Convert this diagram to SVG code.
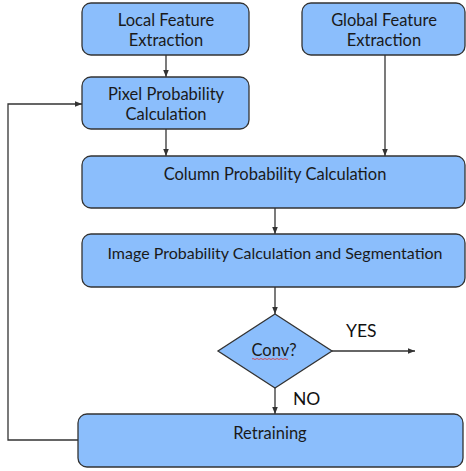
<svg xmlns="http://www.w3.org/2000/svg" width="466" height="471" viewBox="0 0 466 471">
<style>
.box{fill:#8bbefc;stroke:#333;stroke-width:1.3}
.t{font-family:Lato,"Open Sans","DejaVu Sans",sans-serif;font-size:16.5px;fill:#1a1a1a;text-anchor:middle}
.lbl{font-family:Lato,"Open Sans","DejaVu Sans",sans-serif;font-size:17.5px;fill:#111}
.ln{fill:none;stroke:#333;stroke-width:1.3}
</style>
<defs>
<marker id="ah" viewBox="0 0 8 8" refX="8" refY="4" markerWidth="7" markerHeight="7" markerUnits="userSpaceOnUse" orient="auto">
<path d="M0,0.8 L8,4 L0,7.2 Z" fill="#333"/>
</marker>
</defs>
<rect width="466" height="471" fill="#fff"/>
<g id="connectors">
<line class="ln" x1="166" y1="55" x2="166" y2="77" marker-end="url(#ah)"/>
<line class="ln" x1="166" y1="129" x2="166" y2="156" marker-end="url(#ah)"/>
<line class="ln" x1="385" y1="55" x2="385" y2="156" marker-end="url(#ah)"/>
<line class="ln" x1="275" y1="208" x2="275" y2="234" marker-end="url(#ah)"/>
<line class="ln" x1="275" y1="287" x2="275" y2="314" marker-end="url(#ah)"/>
<line class="ln" x1="275" y1="388" x2="275" y2="414" marker-end="url(#ah)"/>
<line class="ln" x1="332" y1="351" x2="415" y2="351" marker-end="url(#ah)"/>
<polyline class="ln" points="78,440 8,440 8,104 82,104" marker-end="url(#ah)"/>
<text class="lbl" x="346" y="337">YES</text>
<text class="lbl" x="293" y="405">NO</text>
</g>
<g id="local">
<rect class="box" x="82" y="3" width="167" height="52" rx="9"/>
<text class="t" x="166" y="26">Local Feature</text>
<text class="t" x="166" y="46">Extraction</text>
</g>
<g id="global">
<rect class="box" x="302" y="3" width="163" height="52" rx="9"/>
<text class="t" x="384" y="26">Global Feature</text>
<text class="t" x="384" y="46">Extraction</text>
</g>
<g id="pixel">
<rect class="box" x="82" y="77" width="167" height="52" rx="9"/>
<text class="t" x="166" y="100">Pixel Probability</text>
<text class="t" x="166" y="120">Calculation</text>
</g>
<g id="column">
<rect class="box" x="82" y="156" width="383" height="52" rx="9"/>
<text class="t" x="275" y="180">Column Probability Calculation</text>
</g>
<g id="image">
<rect class="box" x="82" y="234" width="383" height="53" rx="9"/>
<text class="t" x="275" y="259" style="font-size:16px">Image Probability Calculation and Segmentation</text>
</g>
<g id="conv">
<polygon class="box" points="275,314 332,351 275,388 218,351"/>
<text class="t" x="274" y="356">Conv?</text>
<path d="M252,359 q1,-1 2,0 t2,0 t2,0 t2,0 t2,0 t2,0 t2,0 t2,0 t2,0 t2,0 t2,0 t2,0 t2,0 t2,0 t2,0 t2,0 t2,0 t2,0" fill="none" stroke="#e03030" stroke-width="0.8"/>
</g>
<g id="retraining">
<rect class="box" x="78" y="414" width="385" height="53" rx="9"/>
<text class="t" x="270" y="439">Retraining</text>
</g>
</svg>
